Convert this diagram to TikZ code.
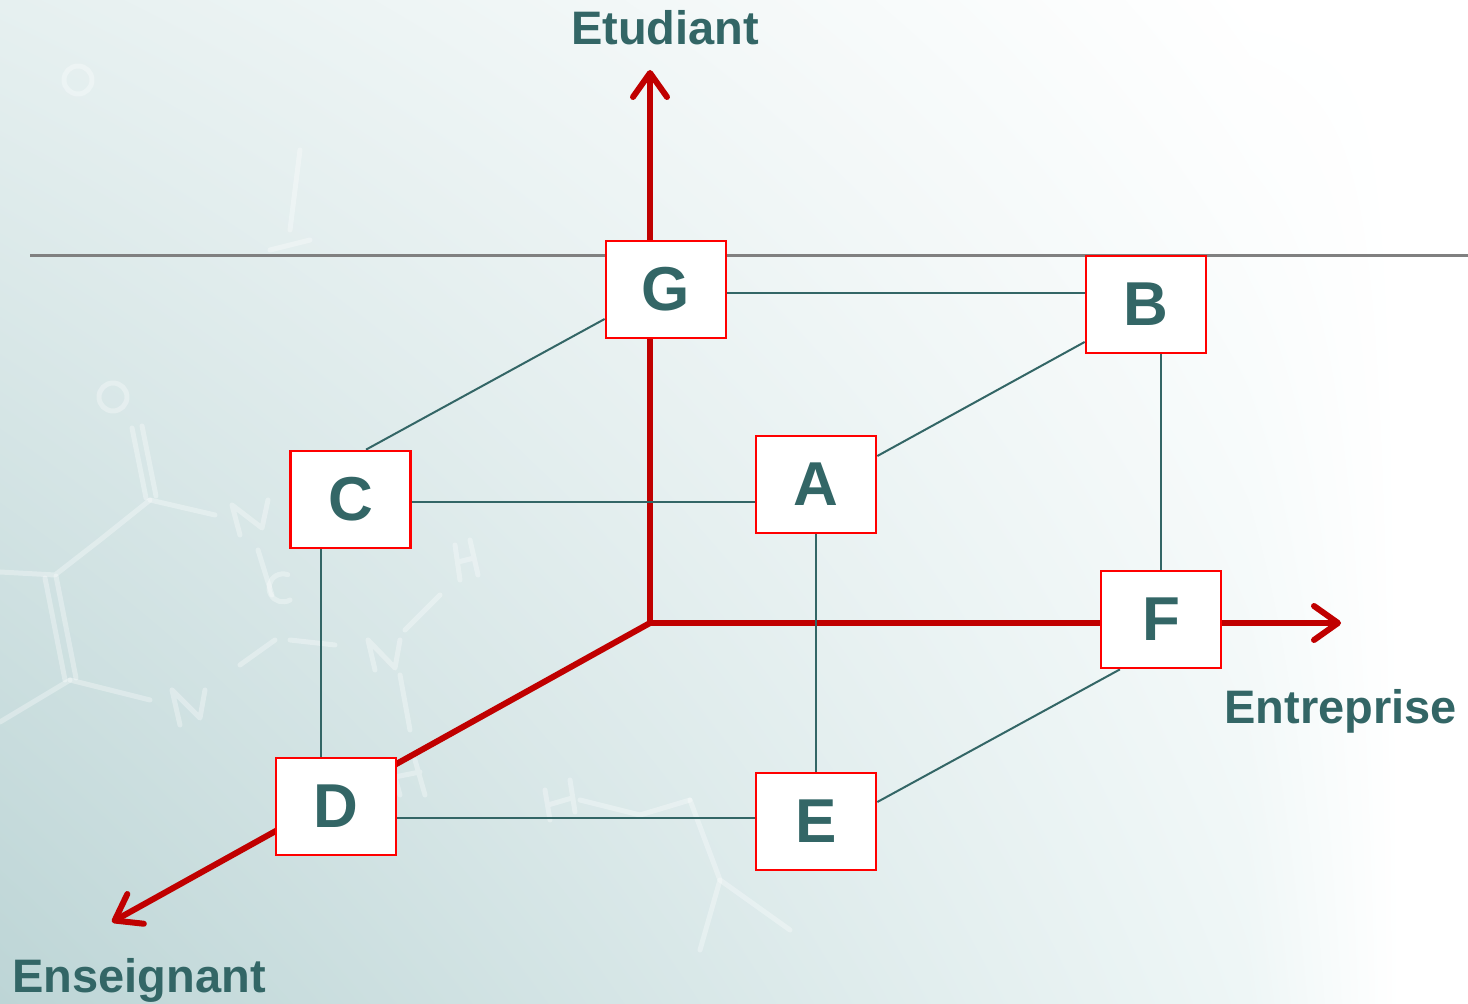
\documentclass[tikz,border=0pt]{standalone}
\usepackage{fontspec}
\setmainfont{Liberation Sans}
\usetikzlibrary{arrows.meta,shadings}
\definecolor{axisred}{HTML}{C00000}
\definecolor{boxred}{HTML}{FF0000}
\definecolor{ink}{HTML}{336666}
\definecolor{rulegray}{HTML}{808080}
\definecolor{tealA}{HTML}{E6F0F0}
\definecolor{tealB}{HTML}{BDD5D6}
\definecolor{tealC}{HTML}{EEF6F6}
\pgfdeclarelayer{backdrop}
\pgfdeclarelayer{lines}
\pgfsetlayers{backdrop,lines,main}
\begin{document}
\begin{tikzpicture}[x=0.5pt,y=-0.5pt,
  cell/.style={draw=boxred, line width=1.35pt, fill=white,
    minimum width=60pt, minimum height=48.5pt, inner sep=0pt,
    font=\fontsize{31}{31}\selectfont\bfseries, text=ink},
  link/.style={draw=ink, line width=1pt},
  axisline/.style={draw=axisred, line width=3pt,
    -{Straight Barb[length=12pt,width=17pt,round]}},
  axlabel/.style={font=\fontsize{23.5}{23.5}\selectfont\bfseries, text=ink, inner sep=0pt},
  molecule/.style={draw=white, opacity=0.32, line width=2.5pt, line cap=round, line join=round}
]
\useasboundingbox (0,0) rectangle (1468,1004);

% the boxes of the cube
\node[cell] (G) at (666,289.5) {G};
\node[cell] (B) at (1146,304.5) {B};
\node[cell] (C) at (350.5,499.5) {C};
\node[cell] (A) at (816,484.5) {A};
\node[cell] (F) at (1161,619.5) {F};
\node[cell] (D) at (336,806.5) {D};
\node[cell] (E) at (816,821.5) {E};

% axis ends
\coordinate (O) at (650,623);
\coordinate (ty) at (650,70);
\coordinate (tx) at (1341,623);
\coordinate (tz) at (112,922);

% axis names
\node[axlabel, anchor=base] (ly) at (665,45) {Etudiant};
\node[axlabel, anchor=base west] (lx) at (1224,724) {Entreprise};
\node[axlabel, anchor=base west] (lz) at (12,993) {Enseignant};

\begin{pgfonlayer}{backdrop}
  \fill[white] (0,0) rectangle (1468,1004);
  \shade[upper left=tealA, lower left=tealB, upper right=white, lower right=tealC]
    (0,0) rectangle (1250,1004);
  \shade[upper left=white, lower left=tealC, upper right=white, lower right=white]
    (1249,0) rectangle (1400,1004);
  % faint formula drawn in the background
  \draw[molecule] (113,397) circle (14);
  \draw[molecule] (132,428) -- (146,498) (142,426) -- (156,496);
  \draw[molecule] (150,500) -- (215,515);
  \draw[molecule] (150,500) -- (100,540) -- (55,575) -- (0,572);
  \draw[molecule] (45,578) -- (65,680) (56,576) -- (76,678);
  \draw[molecule] (70,680) -- (0,722);
  \draw[molecule] (70,680) -- (150,700);
  \draw[molecule] (232,505) -- (240,535) (232,505) -- (262,528) -- (268,500);
  \draw[molecule] (258,550) -- (272,595);
  \draw[molecule] (290,600) arc (60:290:14);
  \draw[molecule] (275,640) -- (240,665);
  \draw[molecule] (172,690) -- (180,725) (172,690) -- (200,718) -- (205,690);
  \draw[molecule] (290,640) -- (335,645);
  \draw[molecule] (368,640) -- (375,670) (368,640) -- (395,668) -- (400,640);
  \draw[molecule] (405,630) -- (440,595);
  \draw[molecule] (400,675) -- (410,730);
  \draw[molecule] (390,760) -- (400,795) (390,778) -- (420,772) (415,760) -- (425,795);
  \draw[molecule] (455,545) -- (460,580) (470,540) -- (478,575) (458,562) -- (474,558);
  \draw[molecule] (545,790) -- (550,820) (570,780) -- (575,812) (548,805) -- (572,798);
  \draw[molecule] (580,800) -- (640,815) -- (690,800);
  \draw[molecule] (690,800) -- (720,880) -- (790,930);
  \draw[molecule] (720,880) -- (700,950);
  \draw[molecule] (300,150) -- (290,230) (270,250) -- (310,240);
  \draw[molecule] (78,80) circle (14);

  % horizontal rule
  \draw[rulegray, line width=1.5pt] (30,256) -- (1468,256);
\end{pgfonlayer}

\begin{pgfonlayer}{lines}
  % the three axes
  \draw[axisline] (O) -- (ty);
  \draw[axisline] (O) -- (tx);
  \draw[axisline] (O) -- (tz);

  % edges of the cube
  \draw[link] ([yshift=-1.75pt]G.east) -- ([yshift=-1.75pt]G.east -| B.west);
  \draw[link] ([yshift=-14.75pt]G.west) -- ([xshift=7.75pt]C.north);
  \draw[link] ([yshift=-18.75pt]B.west) -- ([yshift=14.25pt]A.east);
  \draw[link] ([yshift=-1.25pt]C.east) -- ([yshift=-1.25pt]C.east -| A.west);
  \draw[link] ([xshift=-14.75pt]C.south) -- ([xshift=-14.75pt]C.south |- D.north);
  \draw[link] (A.south) -- (E.north);
  \draw[link] (F.north |- B.south) -- (F.north);
  \draw[link] ([xshift=-20.5pt]F.south) -- ([yshift=9.75pt]E.east);
  \draw[link] ([yshift=-5.75pt]D.east) -- ([yshift=-5.75pt]D.east -| E.west);
\end{pgfonlayer}
\end{tikzpicture}
\end{document}
